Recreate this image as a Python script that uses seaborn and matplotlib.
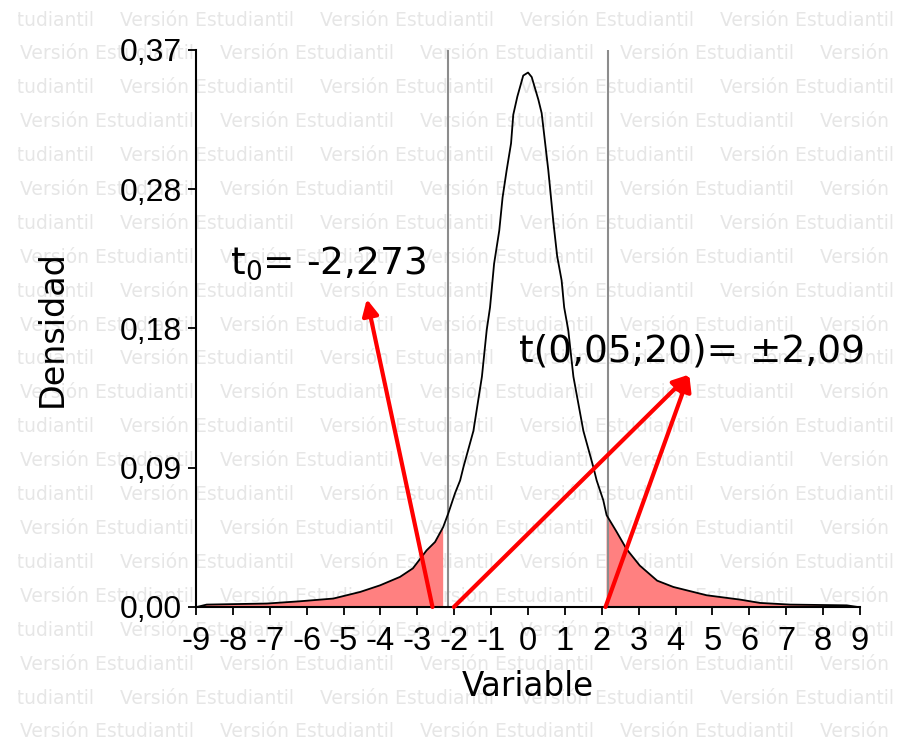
import numpy as np
import seaborn as sns
import matplotlib.pyplot as plt
from matplotlib.transforms import Bbox, TransformedBbox

# Density curve (x = Variable, y = Densidad)
variable = [-8.98, -8.71, -7.08, -6.18, -5.28, -4.55, -4.01, -3.47, -3.12, -2.75,
            -2.52, -2.30, -2.16, -1.98, -1.84, -1.75, -1.48, -1.25, -1.12, -1.03,
            -0.92, -0.78, -0.69, -0.58, -0.46, -0.40, -0.29, -0.13, 0.00, 0.10,
            0.28, 0.37, 0.55, 0.69, 0.79, 0.91, 0.98, 1.09, 1.23, 1.50,
            1.77, 1.86, 2.04, 2.13, 2.40, 2.67, 3.03, 3.50, 3.94, 4.84,
            5.75, 6.29, 7.10, 8.64, 8.94]
densidad = [0.0000, 0.0016, 0.0023, 0.0038, 0.0056, 0.0100, 0.0144, 0.0200, 0.0257, 0.0376,
            0.0432, 0.0531, 0.0623, 0.0755, 0.0841, 0.0930, 0.1170, 0.1530, 0.1840, 0.1990,
            0.2280, 0.2500, 0.2720, 0.2900, 0.3080, 0.3270, 0.3390, 0.3530, 0.3550, 0.3520,
            0.3370, 0.3280, 0.2900, 0.2550, 0.2330, 0.2170, 0.1990, 0.1840, 0.1530, 0.1170,
            0.0930, 0.0841, 0.0709, 0.0610, 0.0500, 0.0385, 0.0275, 0.0175, 0.0133, 0.0078,
            0.0049, 0.0027, 0.0016, 0.0011, 0.0000]

t_obs = -2.30          # left shaded tail ends here
t_right = 2.13         # right shaded tail starts here
crit_lines = [-2.17, 2.16]

xtick_vals = list(range(-9, 10))
ytick_vals = [0.0, 0.0925, 0.185, 0.2775, 0.37]
ytick_labels = ["0,00", "0,09", "0,18", "0,28", "0,37"]

# arrows: (tail, head) in data units
arrows = [((-2.59, 0.0), (-4.37, 0.2045)),
          ((-2.01, 0.0), (4.37, 0.1544)),
          ((2.10, 0.0), (4.37, 0.1544))]

sns.set_style("ticks")
plt.rcParams['font.family'] = ['DejaVu Sans']
plt.rcParams['text.color'] = 'black'
plt.rcParams['axes.labelcolor'] = 'black'
plt.rcParams['xtick.color'] = 'black'
plt.rcParams['ytick.color'] = 'black'

fig = plt.figure(figsize=(9.1, 7.37), dpi=100)
fig.patch.set_facecolor("white")

# "Versión Estudiantil" watermark behind the chart, clipped like the original
wm_clip = TransformedBbox(Bbox([[18 / 910, 0], [895 / 910, 1]]), fig.transFigure)
for k in range(22):
    yy = 20 + 33.9 * k
    x0 = -80 if k % 2 == 0 else 20
    for j in range(6):
        t = fig.text((x0 + 200 * j) / 910, 1 - yy / 737, "Versión Estudiantil",
                     fontsize=13.5, color="#e6e6e6", ha="left", va="center",
                     zorder=-5, clip_on=True)
        t.set_clip_box(wm_clip)

ax = fig.add_axes([0.2154, 0.1764, 0.7297, 0.7558])
ax.patch.set_alpha(0)

x = np.array(variable)
y = np.array(densidad)
mask = (x <= t_obs) | (x >= t_right)
ax.fill_between(x, y, where=mask, color="#ff8080", linewidth=0, zorder=1)

for c in crit_lines:
    ax.axvline(c, color="#8c8c8c", linewidth=1.5, zorder=2)

sns.lineplot(x=variable, y=densidad, color="black", linewidth=1.3,
             sort=False, estimator=None, ax=ax, zorder=3)

for tail, head in arrows:
    ax.annotate("", xy=head, xytext=tail,
                arrowprops=dict(arrowstyle="-|>", color="red", lw=3,
                                mutation_scale=24, shrinkA=0, shrinkB=0),
                zorder=4)

ax.text(-8.08, 0.2217, r"t$_0$= -2,273", fontsize=27, ha="left", va="baseline", zorder=5)
ax.text(-0.24, 0.1628, "t(0,05;20)= \u00b12,09", fontsize=27, ha="left", va="baseline", zorder=5)

ax.set_xlim(-9, 9)
ax.set_ylim(0, 0.37)
ax.set_xticks(xtick_vals, [str(v) for v in xtick_vals], fontsize=23.5, fontfamily="Liberation Sans")
ax.set_yticks(ytick_vals, ytick_labels, fontsize=23, fontfamily="Liberation Sans")
ax.tick_params(axis="both", direction="out", length=6, width=1.3, color="black")
ax.tick_params(axis="x", pad=8)
ax.tick_params(axis="y", pad=4)

ax.set_xlabel("Variable", fontsize=23.5, labelpad=9)
ax.set_ylabel("Densidad", fontsize=24, labelpad=37)

sns.despine(ax=ax)
for side in ["left", "bottom"]:
    ax.spines[side].set_linewidth(1.5)
    ax.spines[side].set_color("black")

fig.savefig("out.png", dpi=100, facecolor="white")
plt.close(fig)
